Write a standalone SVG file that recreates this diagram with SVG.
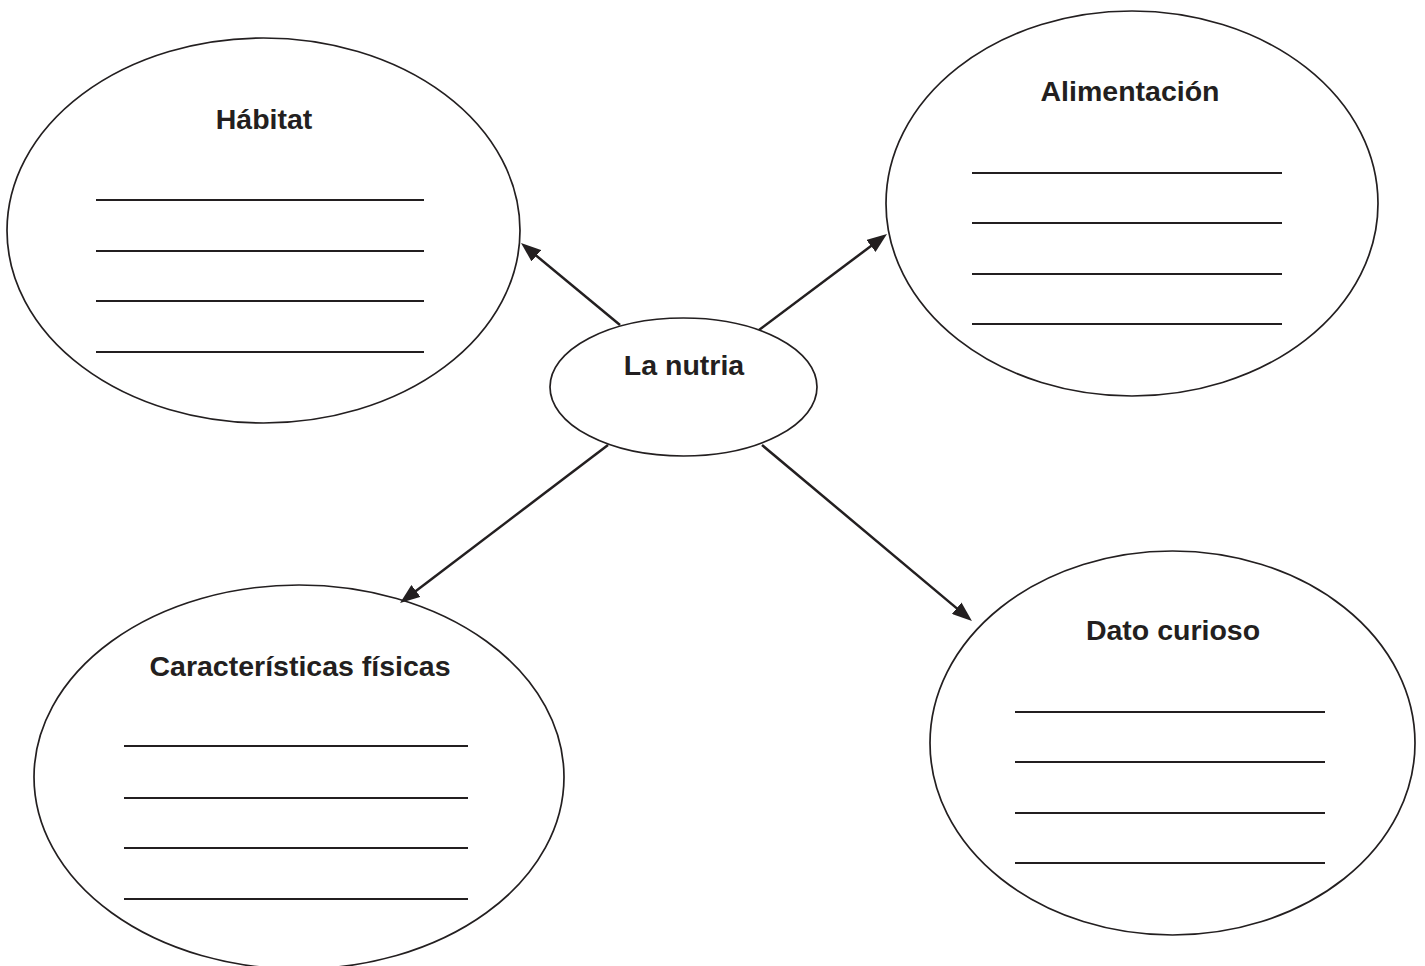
<svg xmlns="http://www.w3.org/2000/svg" width="1425" height="966" viewBox="0 0 1425 966">
<defs>
<style>
.oval{fill:#ffffff;stroke:#231f20;stroke-width:1.7}
.wl{stroke:#231f20;stroke-width:2}
.lbl{font-family:"Liberation Sans",Arial,Helvetica,sans-serif;font-weight:bold;font-size:28.5px;fill:#231f20;text-anchor:middle}
.conn{stroke:#231f20;stroke-width:2.5;fill:none;marker-end:url(#arrow)}
</style>
<marker id="arrow" markerUnits="userSpaceOnUse" viewBox="0 0 20 15" markerWidth="20" markerHeight="15" refX="10" refY="7.5" orient="auto">
<path d="M0,0 L20,7.5 L0,15 z" fill="#231f20"/>
</marker>
</defs>
<rect x="0" y="0" width="1425" height="966" fill="#ffffff"/>
<g id="habitat">
<ellipse class="oval" cx="263.5" cy="230.5" rx="256.5" ry="192.5"/>
<text class="lbl" x="264" y="129">Hábitat</text>
<line class="wl" x1="96" y1="200" x2="424" y2="200"/>
<line class="wl" x1="96" y1="251" x2="424" y2="251"/>
<line class="wl" x1="96" y1="301" x2="424" y2="301"/>
<line class="wl" x1="96" y1="352" x2="424" y2="352"/>
</g>
<g id="alimentacion">
<ellipse class="oval" cx="1132" cy="203.5" rx="246" ry="192.5"/>
<text class="lbl" x="1130" y="101">Alimentación</text>
<line class="wl" x1="972" y1="173" x2="1282" y2="173"/>
<line class="wl" x1="972" y1="223" x2="1282" y2="223"/>
<line class="wl" x1="972" y1="274" x2="1282" y2="274"/>
<line class="wl" x1="972" y1="324" x2="1282" y2="324"/>
</g>
<g id="nutria">
<ellipse class="oval" cx="683.5" cy="387" rx="133.5" ry="69"/>
<text class="lbl" x="684" y="375">La nutria</text>
</g>
<g id="caracteristicas">
<ellipse class="oval" cx="299" cy="777" rx="265" ry="192"/>
<text class="lbl" x="300" y="676">Características físicas</text>
<line class="wl" x1="124" y1="746" x2="468" y2="746"/>
<line class="wl" x1="124" y1="798" x2="468" y2="798"/>
<line class="wl" x1="124" y1="848" x2="468" y2="848"/>
<line class="wl" x1="124" y1="899" x2="468" y2="899"/>
</g>
<g id="dato">
<ellipse class="oval" cx="1172.5" cy="743" rx="242.5" ry="192"/>
<text class="lbl" x="1173" y="640">Dato curioso</text>
<line class="wl" x1="1015" y1="712" x2="1325" y2="712"/>
<line class="wl" x1="1015" y1="762" x2="1325" y2="762"/>
<line class="wl" x1="1015" y1="813" x2="1325" y2="813"/>
<line class="wl" x1="1015" y1="863" x2="1325" y2="863"/>
</g>
<g id="connectors">
<line class="conn" x1="620" y1="325" x2="528.7" y2="249.4"/>
<line class="conn" x1="759" y1="330" x2="879" y2="240"/>
<line class="conn" x1="608" y1="445" x2="408" y2="597"/>
<line class="conn" x1="762" y1="445" x2="964.3" y2="614.6"/>
</g>
</svg>
